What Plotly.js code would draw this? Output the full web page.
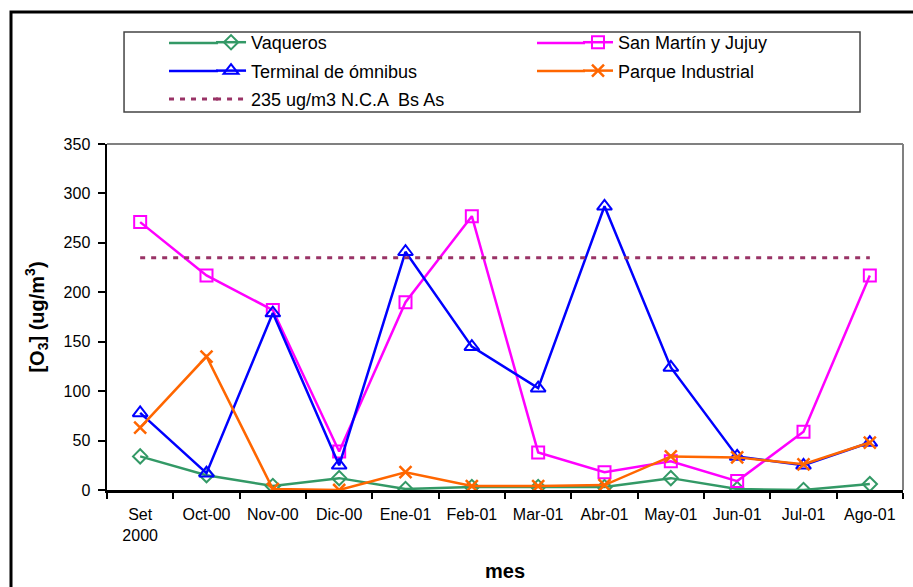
<!DOCTYPE html>
<html>
<head>
<meta charset="utf-8">
<script src="https://cdn.plot.ly/plotly-3.0.1.min.js"></script>
<style>
html,body{margin:0;padding:0;background:#fff;}
#chart{width:913px;height:587px;}
</style>
</head>
<body>
<div id="chart"></div>
<script>
var months = ["Set<br>2000","Oct-00","Nov-00","Dic-00","Ene-01","Feb-01","Mar-01","Abr-01","May-01","Jun-01","Jul-01","Ago-01"];
var vaqueros = [34, 15, 4, 12, 1, 3, 3, 3, 12, 1, 0, 6];
var sanMartin = [271, 217, 182, 39, 190, 277, 38, 18, 29, 9, 59, 217];
var terminal = [78, 17, 179, 25, 241, 145, 103, 287, 124, 34, 25, 48];
var parque = [63, 135, 1, 0, 18, 4, 4, 5, 34, 33, 26, 48];
var limite = [235, 235, 235, 235, 235, 235, 235, 235, 235, 235, 235, 235];

var FONT = "Liberation Sans, Arial, sans-serif";

var traces = [
  {x: months, y: vaqueros, name: "Vaqueros", mode: "lines+markers", legend: "legend", legendgroup: "a",
   line: {color: "#339966", width: 2.5},
   marker: {symbol: "diamond-open", size: 11, color: "#339966", line: {width: 2, color: "#339966"}}},
  {x: months, y: sanMartin, name: "San Martín y Jujuy", mode: "lines+markers", legend: "legend2", legendgroup: "b",
   line: {color: "#FF00FF", width: 2.5},
   marker: {symbol: "square-open", size: 12, color: "#FF00FF", line: {width: 2, color: "#FF00FF"}}},
  {x: months, y: terminal, name: "Terminal de ómnibus", mode: "lines+markers", legend: "legend", legendgroup: "c",
   line: {color: "#0000FF", width: 2.5},
   marker: {symbol: "triangle-up-open", size: 13, color: "#0000FF", line: {width: 2, color: "#0000FF"}}},
  {x: months, y: parque, name: "Parque Industrial", mode: "lines+markers", legend: "legend2", legendgroup: "d",
   line: {color: "#FF6600", width: 2.5},
   marker: {symbol: "x-thin-open", size: 12, color: "#FF6600", line: {width: 2.5, color: "#FF6600"}}},
  {x: months, y: limite, name: "235 ug/m3 N.C.A  Bs As", mode: "lines", legend: "legend", legendgroup: "e",
   line: {color: "#993366", width: 3, dash: "5px,6px"}}
];

var legendBase = {
  orientation: "v", yanchor: "top", xanchor: "left",
  borderwidth: 0, bgcolor: "rgba(0,0,0,0)",
  font: {family: FONT, size: 18, color: "#000"},
  traceorder: "grouped", tracegroupgap: 2
};

// legend swatch extensions (decoration only, in paper coordinates)
function ext(x0, x1, y, color, dash) {
  return {type: "line", xref: "paper", yref: "paper", x0: x0, x1: x1, y0: y, y1: y,
          line: {color: color, width: dash ? 3 : 2.5, dash: dash || "solid"}};
}

var layout = {
  width: 913, height: 587,
  margin: {l: 107, r: 10, t: 144, b: 97},
  paper_bgcolor: "#fff", plot_bgcolor: "#fff",
  font: {family: FONT, size: 16, color: "#000"},
  showlegend: true,
  legend: Object.assign({}, legendBase, {x: 0.1307, y: 1.3468}),
  legend2: Object.assign({}, legendBase, {x: 0.5917, y: 1.3468}),
  xaxis: {
    type: "category",
    range: [-0.5, 11.5],
    tickson: "boundaries",
    ticks: "outside", ticklen: 6, tickwidth: 2, tickcolor: "#000",
    showline: true, linecolor: "#000", linewidth: 2.5,
    showgrid: false, zeroline: false,
    tickfont: {family: FONT, size: 16, color: "#000"},
    ticklabelstandoff: 8,
    title: {text: "mes", font: {family: FONT, size: 20, color: "#000", weight: "bold"}, standoff: 22},
    fixedrange: true
  },
  yaxis: {
    range: [0, 350], dtick: 50, tick0: 0,
    ticks: "outside", ticklen: 7, tickwidth: 2, tickcolor: "#000",
    showline: true, linecolor: "#000", linewidth: 2.5,
    showgrid: false, zeroline: false,
    tickfont: {family: FONT, size: 16, color: "#000"},
    ticklabelstandoff: 4,
    title: {text: "<b>[O<sub>3</sub>] (ug/m<sup>3</sup>)</b>", font: {family: FONT, size: 20, color: "#000"}, standoff: 14},
    fixedrange: true
  },
  shapes: [
    {type: "line", xref: "paper", yref: "paper", x0: 0, x1: 1, y0: 1, y1: 1, line: {color: "#808080", width: 2}},
    {type: "line", xref: "paper", yref: "paper", x0: 1, x1: 1, y0: 0, y1: 1, line: {color: "#808080", width: 2}},
    {type: "rect", xref: "paper", yref: "paper", x0: -0.1206, x1: 1.02, y0: -0.3, y1: 1.3815, line: {color: "#000", width: 3}},
    {type: "rect", xref: "paper", yref: "paper", x0: 0.0214, x1: 0.9460, y0: 1.0925, y1: 1.3237, line: {color: "#444", width: 1.5}},
    ext(0.0779, 0.1394, 1.2919, "#339966"),
    ext(0.0779, 0.1394, 1.2110, "#0000FF"),
    ext(0.0779, 0.1394, 1.1301, "#993366", "5px,6px"),
    ext(0.5402, 0.6005, 1.2919, "#FF00FF"),
    ext(0.5402, 0.6005, 1.2110, "#FF6600")
  ]
};

Plotly.newPlot("chart", traces, layout, {displayModeBar: false, staticPlot: true});
</script>
</body>
</html>
